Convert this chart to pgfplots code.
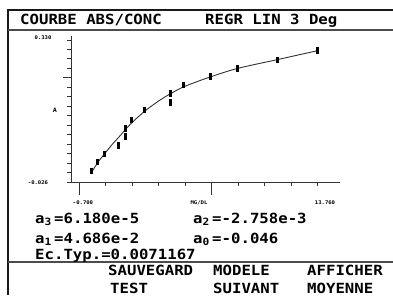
\documentclass[border=0pt]{standalone}
\usepackage{fontspec}
\usepackage{pgfplots}
\pgfplotsset{compat=1.18}
\newfontfamily\scr[FakeStretch=1.12]{DejaVu Sans Mono}
\newcommand{\sub}[1]{\hbox to 9.6pt{\raisebox{-2.5pt}{\fontsize{10}{10}\selectfont #1}\hss}}
\begin{document}
\begin{tikzpicture}[x=1pt,y=1pt]
\useasboundingbox (0,0) rectangle (393,295);
% frame
\draw[line width=2pt, black!90] (8,285) -- (393,285);
\draw[line width=2pt, black!90] (8,286) -- (8,0);
\draw[line width=1.2pt, black!70] (8,265) -- (393,265);
\draw[line width=1.2pt, black!70] (8,33) -- (393,33);
% header
\node[anchor=base west, inner sep=0] at (20,270) {\scr\bfseries\fontsize{14}{14}\selectfont COURBE ABS/CONC};
\node[anchor=base west, inner sep=0] at (205,270) {\scr\bfseries\fontsize{14}{14}\selectfont REGR LIN 3 Deg};
% axis tick labels
\node[inner sep=0] at (43,257) {\scr\bfseries\fontsize{5}{5}\selectfont 0.330};
\node[inner sep=0] at (38,112) {\scr\bfseries\fontsize{5}{5}\selectfont -0.026};
\node[inner sep=0] at (55,185) {\scr\bfseries\fontsize{6}{6}\selectfont A};
\node[inner sep=0] at (83,92) {\scr\bfseries\fontsize{5}{5}\selectfont -0.700};
\node[inner sep=0] at (199,92) {\scr\bfseries\fontsize{5}{5}\selectfont MG/DL};
\node[inner sep=0] at (325,92) {\scr\bfseries\fontsize{5}{5}\selectfont 13.760};
\begin{axis}[
  at={(71pt,113pt)}, anchor=south west,
  scale only axis, width=269pt, height=146pt,
  xmin=-0.302, xmax=9.849, ymin=-0.026, ymax=0.340,
  axis lines=left, axis line style={-, line width=1pt, black!80},
  xtick={1,2,3,4,6,7,8,9}, xticklabels={},
  ytick={0.330,0.30627,0.28253,0.2588,0.21133,0.1876,0.16387,0.14013,0.1164,0.09267,0.06893,0.0452,0.02147,-0.00227,-0.026},
  yticklabels={},
  tick align=outside, major tick length=4pt,
  tick style={black!80, line width=0.9pt},
  extra x ticks={0,5}, extra x tick labels={},
  extra x tick style={major tick length=13pt, tick style={black!80, line width=1pt}},
  extra y ticks={0.23507}, extra y tick labels={},
  extra y tick style={major tick length=8pt, tick style={black!80, line width=1pt}},
  clip=false,
]
\addplot[black!80, line width=0.9pt, smooth] coordinates {
(0.49,0.0) (0.72,0.024) (0.98,0.046) (1.25,0.068) (1.55,0.090) (1.81,0.110)
(2.08,0.128) (2.49,0.152) (2.98,0.176) (3.47,0.196) (4.0,0.214) (4.98,0.238)
(6.0,0.259) (7.5,0.281) (8.99,0.303)};
\addplot[only marks, black, mark=|, mark size=3.3pt, mark options={line width=3pt}] coordinates {
(0.49,0.002) (0.70,0.024) (0.98,0.044) (1.48,0.066) (1.76,0.1086) (1.76,0.0876)
(1.99,0.1294) (2.49,0.1545) (3.47,0.1964) (3.47,0.1728) (3.96,0.2172)
(4.98,0.238) (5.99,0.259) (7.5,0.2799) (8.99,0.3032)};
\end{axis}
% coefficients
\node[anchor=base west, inner sep=0] at (35,72) {\scr\bfseries\fontsize{14}{14}\selectfont a\sub{3}=6.180e-5};
\node[anchor=base west, inner sep=0] at (193,72) {\scr\bfseries\fontsize{14}{14}\selectfont a\sub{2}=-2.758e-3};
\node[anchor=base west, inner sep=0] at (35,52) {\scr\bfseries\fontsize{14}{14}\selectfont a\sub{1}=4.686e-2};
\node[anchor=base west, inner sep=0] at (193,52) {\scr\bfseries\fontsize{14}{14}\selectfont a\sub{0}=-0.046};
\node[anchor=base west, inner sep=0] at (35,36) {\scr\bfseries\fontsize{14}{14}\selectfont Ec.Typ.=0.0071167};
% footer
\node[anchor=base west, inner sep=0] at (108,20) {\scr\bfseries\fontsize{14}{14}\selectfont SAUVEGARD};
\node[anchor=base west, inner sep=0] at (213,20) {\scr\bfseries\fontsize{14}{14}\selectfont MODELE};
\node[anchor=base west, inner sep=0] at (307,20) {\scr\bfseries\fontsize{14}{14}\selectfont AFFICHER};
\node[anchor=base west, inner sep=0] at (110,2) {\scr\bfseries\fontsize{14}{14}\selectfont TEST};
\node[anchor=base west, inner sep=0] at (213,2) {\scr\bfseries\fontsize{14}{14}\selectfont SUIVANT};
\node[anchor=base west, inner sep=0] at (307,2) {\scr\bfseries\fontsize{14}{14}\selectfont MOYENNE};
\end{tikzpicture}
\end{document}
